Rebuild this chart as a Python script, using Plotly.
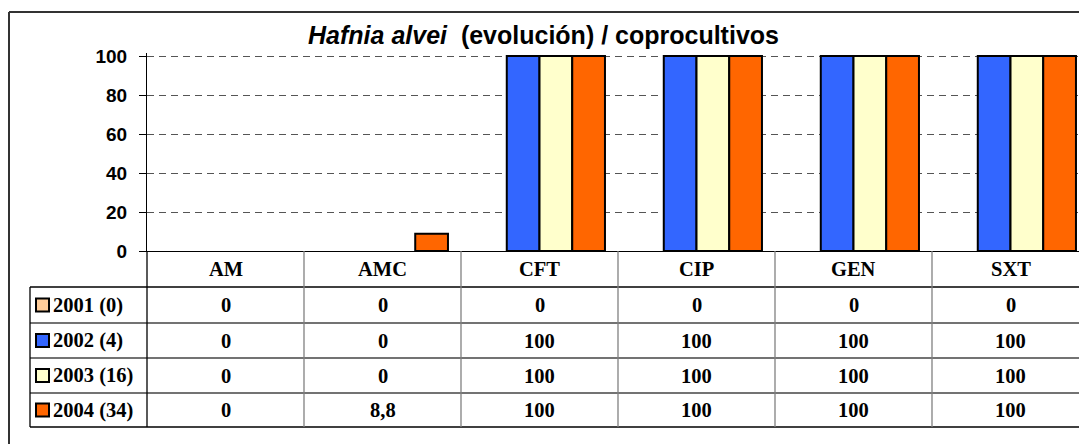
import plotly.graph_objects as go

# ---------------- data ----------------
categories = ["AM", "AMC", "CFT", "CIP", "GEN", "SXT"]
series_names = ["2001 (0)", "2002 (4)", "2003 (16)", "2004 (34)"]
v2001 = [0, 0, 0, 0, 0, 0]
v2002 = [0, 0, 100, 100, 100, 100]
v2003 = [0, 0, 100, 100, 100, 100]
v2004 = [0, 8.8, 100, 100, 100, 100]
series_values = [v2001, v2002, v2003, v2004]
colors = ["#FFCC99", "#3366FF", "#FFFFCC", "#FF6600"]
y_ticks = [0, 20, 40, 60, 80, 100]
title_text = "<i>Hafnia alvei</i>  (evolución) / coprocultivos"

# ---------------- layout geometry ----------------
OFF = 8  # default page body margin
W, H = 1087 - OFF, 444 - OFF
ML, MR, MT = 147 - OFF, 0, 53 - OFF
PLOT_BOTTOM = 251 - OFF
MB = H - PLOT_BOTTOM
PW = W - ML - MR
PH = PLOT_BOTTOM - MT
PX_PER_100 = 195  # pixels from 0 to 100 on the value axis
Y_MAX = 100 * PH / PX_PER_100


def px_x(px):  # page pixel -> paper x
    return (px - OFF - ML) / PW


def px_y(py):  # page pixel -> paper y
    return (PLOT_BOTTOM - (py - OFF)) / PH


def fmt(v):
    return ("%g" % v).replace(".", ",")


fig = go.Figure()
for name, vals, col in zip(series_names, series_values, colors):
    fig.add_trace(go.Bar(
        x=categories, y=vals, name=name,
        marker=dict(color=col, line=dict(color="black", width=[2 if v > 0 else 0 for v in vals])),
        showlegend=False,
    ))

serif = "Liberation Serif, Times New Roman, serif"
sans = "Liberation Sans, Arial, sans-serif"
TFS = 20.5

header_top = 251
row_lines = [287, 323, 358, 393, 427]
legend_left = 30

shapes = []
annotations = []

# outer frame (left and top edges visible)
shapes.append(dict(type="line", xref="paper", yref="paper",
                   x0=px_x(9), x1=px_x(9), y0=px_y(12), y1=px_y(460),
                   line=dict(color="#333333", width=2)))
shapes.append(dict(type="line", xref="paper", yref="paper",
                   x0=px_x(9), x1=px_x(1100), y0=px_y(12), y1=px_y(12),
                   line=dict(color="#333333", width=2)))

# horizontal table lines
for i, ry in enumerate(row_lines):
    shapes.append(dict(type="line", xref="paper", yref="paper",
                       x0=px_x(legend_left), x1=px_x(1100), y0=px_y(ry), y1=px_y(ry),
                       line=dict(color="black" if i in (0, len(row_lines) - 1) else "#444444", width=1.3)))
# vertical table lines
shapes.append(dict(type="line", xref="paper", yref="paper",
                   x0=px_x(legend_left), x1=px_x(legend_left), y0=px_y(row_lines[0]), y1=px_y(row_lines[-1]),
                   line=dict(color="black", width=1.3)))
shapes.append(dict(type="line", xref="paper", yref="paper",
                   x0=0, x1=0, y0=0, y1=px_y(row_lines[-1]),
                   line=dict(color="black", width=1.3)))
for i in range(len(categories) - 1):
    shapes.append(dict(type="line", xref="x", yref="paper",
                       x0=i + 0.5, x1=i + 0.5, y0=0, y1=px_y(row_lines[-1]),
                       line=dict(color="#808080", width=1.3)))

# header labels
for i, c in enumerate(categories):
    annotations.append(dict(xref="x", yref="paper", x=i, y=px_y((header_top + row_lines[0]) / 2),
                            text=c, showarrow=False, xanchor="center", yanchor="middle",
                            font=dict(family=serif, size=TFS, color="black", weight="bold")))

# data rows
for r, (name, vals, col) in enumerate(zip(series_names, series_values, colors)):
    top, bot = row_lines[r], row_lines[r + 1]
    cy = (top + bot) / 2
    for i, v in enumerate(vals):
        annotations.append(dict(xref="x", yref="paper", x=i, y=px_y(cy),
                                text=fmt(v), showarrow=False, xanchor="center", yanchor="middle",
                                font=dict(family=serif, size=TFS, color="black", weight="bold")))
    shapes.append(dict(type="rect", xref="paper", yref="paper",
                       x0=px_x(36), x1=px_x(49), y0=px_y(cy - 6.5), y1=px_y(cy + 6.5),
                       fillcolor=col, line=dict(color="black", width=2)))
    annotations.append(dict(xref="paper", yref="paper", x=px_x(51), y=px_y(cy),
                            text=name, showarrow=False, xanchor="left", yanchor="middle",
                            font=dict(family=serif, size=TFS, color="black", weight="bold")))

fig.update_layout(
    width=W, height=H,
    margin=dict(l=ML, r=MR, t=MT, b=MB, pad=0),
    paper_bgcolor="white", plot_bgcolor="white",
    barmode="group", bargap=0.166, bargroupgap=0,
    title=dict(text=title_text, x=(543.5 - OFF) / W, xref="container", xanchor="center",
               y=1 - (35 - OFF) / H, yref="container", yanchor="middle",
               font=dict(family=sans, size=25, color="black", weight="bold")),
    xaxis=dict(type="category", range=[-0.5, PW / 157 - 0.5], showticklabels=False,
               showgrid=False, showline=True, linecolor="black", linewidth=1,
               ticks="", zeroline=False, fixedrange=True),
    yaxis=dict(range=[0, Y_MAX], tickvals=y_ticks, ticks="outside", ticklen=7, tickcolor="black",
               showline=True, linecolor="black", linewidth=1,
               showgrid=True, gridcolor="#555555", griddash="7px,5px", gridwidth=1,
               zeroline=False, ticklabelstandoff=8,
               tickfont=dict(family=sans, size=19, color="black", weight="bold"),
               fixedrange=True),
    shapes=shapes,
    annotations=annotations,
)

fig.write_html("out.html")
